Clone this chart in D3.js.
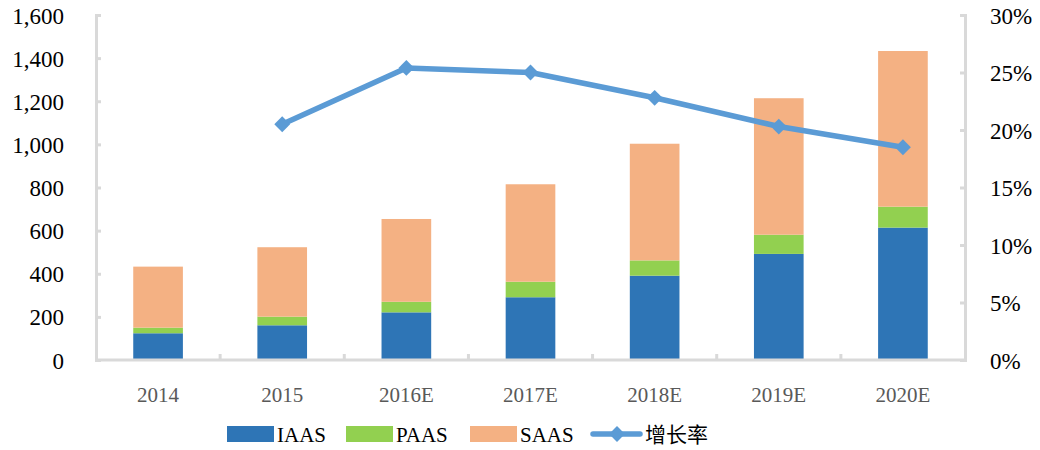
<!DOCTYPE html>
<html>
<head>
<meta charset="utf-8">
<script src="https://cdn.jsdelivr.net/npm/d3@7"></script>
<style>
  body { margin: 0; background: #fff; }
  text { font-family: "Liberation Serif", "Times New Roman", serif; }
</style>
</head>
<body>
<div id="chart"></div>
<script>
var categories = ["2014", "2015", "2016E", "2017E", "2018E", "2019E", "2020E"];
var iaas = [124, 161, 221, 291, 391, 492, 614];
var paas = [26, 40, 49, 72, 71, 89, 97];
var saas = [283, 322, 384, 452, 541, 633, 722];
var growth = [null, 20.5, 25.4, 25.0, 22.8, 20.3, 18.5];
var leftTicks = [0, 200, 400, 600, 800, 1000, 1200, 1400, 1600];
var rightTicks = [0, 5, 10, 15, 20, 25, 30];

var width = 1040, height = 450;
var plotLeft = 96, plotRight = 965, plotTop = 15, plotBottom = 360;
var axisColor = "#d9d9d9";
var seriesNames = ["IAAS", "PAAS", "SAAS"];
var colors = ["#2e75b6", "#92d050", "#f4b183"];
var lineColor = "#5b9bd5";

var rows = categories.map(function(c, i) {
    return { cat: c, IAAS: iaas[i], PAAS: paas[i], SAAS: saas[i], rate: growth[i] };
});

var svg = d3.select("#chart").append("svg")
    .attr("width", width)
    .attr("height", height);

var x = d3.scaleBand()
    .domain(categories)
    .range([plotLeft, plotRight])
    .paddingInner(0.6)
    .paddingOuter(0.3);

var y = d3.scaleLinear().domain([0, 1600]).range([plotBottom, plotTop]);
var y2 = d3.scaleLinear().domain([0, 30]).range([plotBottom, plotTop]);

var stack = d3.stack().keys(seriesNames)(rows);

svg.append("g").selectAll("g")
    .data(stack)
    .enter().append("g")
    .attr("fill", function(d, i) { return colors[i]; })
    .selectAll("rect")
    .data(function(d) { return d; })
    .enter().append("rect")
    .attr("x", function(d) { return x(d.data.cat); })
    .attr("width", x.bandwidth())
    .attr("y", function(d) { return y(d[1]); })
    .attr("height", function(d) { return y(d[0]) - y(d[1]); });

// left axis
var yAxis = d3.axisRight(y).tickValues(leftTicks).tickSize(5).tickFormat(d3.format(","));
var gl = svg.append("g").attr("transform", "translate(" + plotLeft + ",0)").call(yAxis);
gl.selectAll("text").attr("x", -32).attr("text-anchor", "end");

// right axis
var y2Axis = d3.axisLeft(y2).tickValues(rightTicks).tickSize(5).tickFormat(function(d) { return d + "%"; });
var gr = svg.append("g").attr("transform", "translate(" + plotRight + ",0)").call(y2Axis);
gr.selectAll("text").attr("x", 25).attr("text-anchor", "start");

[gl, gr].forEach(function(g) {
    g.attr("font-family", "'Liberation Serif', serif");
    g.select(".domain").attr("stroke", axisColor).attr("stroke-width", 3);
    g.selectAll(".tick line").attr("stroke", axisColor).attr("stroke-width", 3);
    g.selectAll("text").attr("fill", "#000").style("font-size", "23px")
        .style("font-family", "'Liberation Serif', serif").attr("dy", "0.35em");
});

// x axis
var step = x.step();
svg.append("line")
    .attr("x1", plotLeft).attr("x2", plotRight)
    .attr("y1", plotBottom).attr("y2", plotBottom)
    .attr("stroke", axisColor).attr("stroke-width", 3);
svg.append("g").selectAll("line")
    .data(categories.slice(1))
    .enter().append("line")
    .attr("x1", function(d) { return x(d) + x.bandwidth() / 2 - step / 2; })
    .attr("x2", function(d) { return x(d) + x.bandwidth() / 2 - step / 2; })
    .attr("y1", plotBottom).attr("y2", plotBottom - 6)
    .attr("stroke", axisColor).attr("stroke-width", 3);
svg.append("g").selectAll("text")
    .data(categories)
    .enter().append("text")
    .attr("x", function(d) { return x(d) + x.bandwidth() / 2; })
    .attr("y", 402)
    .attr("text-anchor", "middle")
    .attr("fill", "#595959")
    .style("font-size", "21px")
    .text(function(d) { return d; });

// growth line
var pts = rows.filter(function(d) { return d.rate !== null; });
var line = d3.line()
    .x(function(d) { return x(d.cat) + x.bandwidth() / 2; })
    .y(function(d) { return y2(d.rate); });
svg.append("path")
    .datum(pts)
    .attr("d", line)
    .attr("fill", "none")
    .attr("stroke", lineColor)
    .attr("stroke-width", 5.5)
    .attr("stroke-linejoin", "round");

var diamond = d3.symbol().type(d3.symbolDiamond2).size(160);
svg.append("g").selectAll("path")
    .data(pts)
    .enter().append("path")
    .attr("d", diamond)
    .attr("transform", function(d) {
        return "translate(" + (x(d.cat) + x.bandwidth() / 2) + "," + y2(d.rate) + ")";
    })
    .attr("fill", lineColor);

// legend
var legendY = 434;
var legendX = [227, 346, 470];
var leg = svg.append("g");
seriesNames.forEach(function(name, i) {
    leg.append("rect")
        .attr("x", legendX[i]).attr("y", legendY - 8)
        .attr("width", 47).attr("height", 16)
        .attr("fill", colors[i]);
    leg.append("text")
        .attr("x", legendX[i] + 50).attr("y", legendY + 8)
        .style("font-size", "21px")
        .attr("fill", "#000")
        .text(name);
});
leg.append("line")
    .attr("x1", 593).attr("x2", 640)
    .attr("y1", legendY).attr("y2", legendY)
    .attr("stroke", lineColor).attr("stroke-width", 5.5)
    .attr("stroke-linecap", "round");
leg.append("path")
    .attr("d", diamond)
    .attr("transform", "translate(617," + legendY + ")")
    .attr("fill", lineColor);
leg.append("text")
    .attr("x", 645).attr("y", legendY + 8)
    .style("font-size", "21px")
    .style("font-family", "'Noto Sans CJK SC', sans-serif")
    .attr("fill", "#000")
    .text("增长率");
</script>
</body>
</html>
